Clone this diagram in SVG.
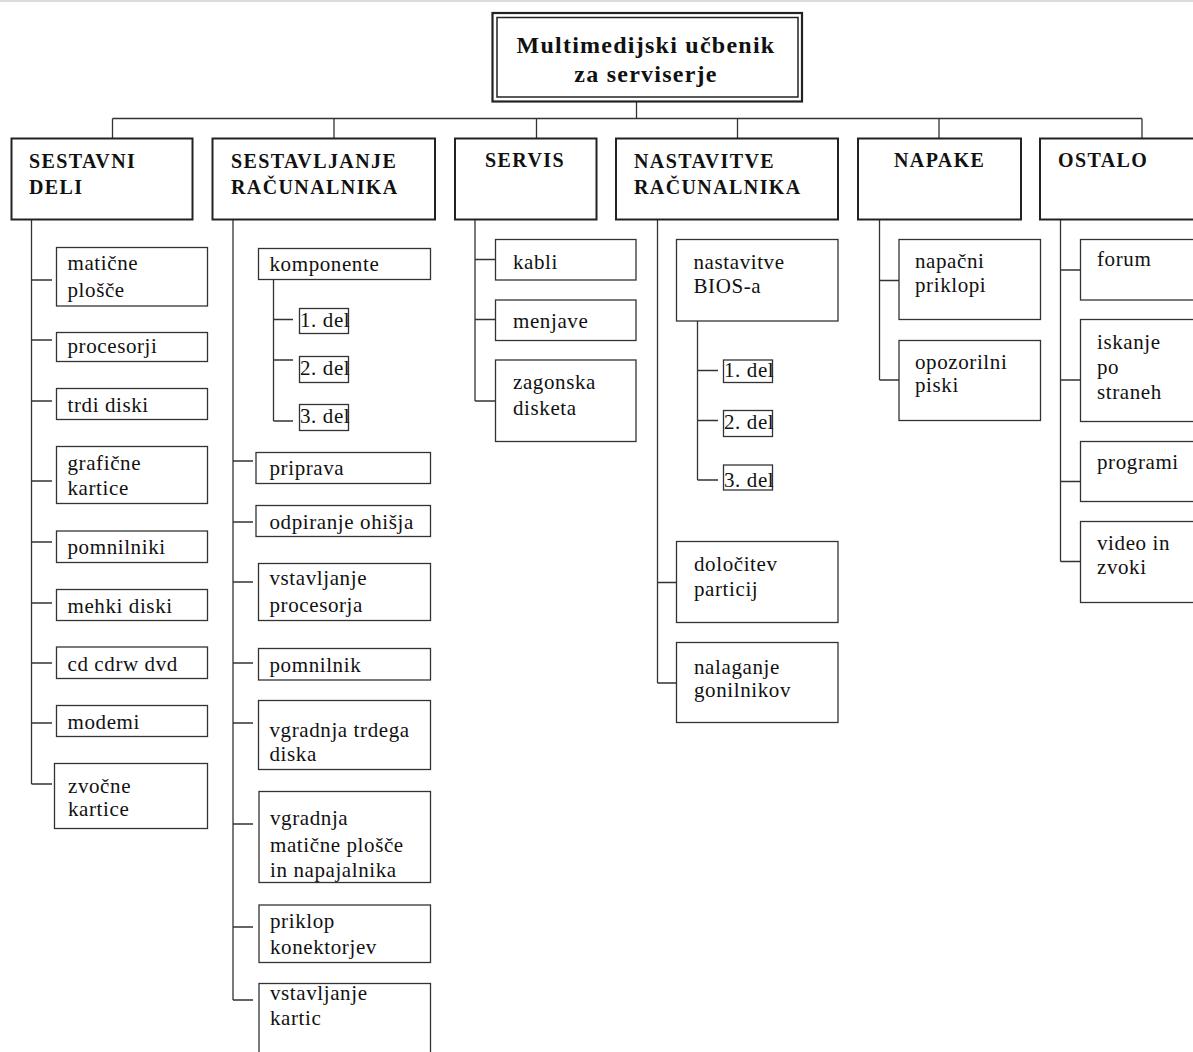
<svg xmlns="http://www.w3.org/2000/svg" width="1193" height="1052" viewBox="0 0 1193 1052">
<style>
text{font-family:"Liberation Serif","Times New Roman",serif;fill:#111}
.t{font-size:24px;font-weight:bold;letter-spacing:1.25px;text-anchor:middle}
.h{font-size:20px;font-weight:bold;letter-spacing:1.4px}
.s{font-size:21px;letter-spacing:0.6px}
.hb{fill:#fff;stroke:#222;stroke-width:2}
.sb{fill:#fff;stroke:#333;stroke-width:1.3}
.c{fill:none;stroke:#333;stroke-width:1.3}
</style>
<rect x="0" y="0" width="1193" height="1052" fill="#fff"/>
<line x1="0" y1="1" x2="1193" y2="1" stroke="#dcdcdc" stroke-width="2"/>
<g id="connectors" class="c">
<path d="M636.5 101.5V118.5M112.5 118.5H1142M112.5 118.5V138.5M334 118.5V138.5M536.5 118.5V138.5M737.5 118.5V138.5M939 118.5V138.5M1142 118.5V138.5"/>
<path d="M31.5 219.5V784M31.5 280H52M31.5 340H52M31.5 401H52M31.5 481H52M31.5 542H52M31.5 603H52M31.5 663H52M31.5 723H52M31.5 784H52"/>
<path d="M233 219.5V1000M233 461H253M233 522H253M233 582H253M233 663H253M233 723H253M233 824H253M233 927H253M233 1000H253"/>
<path d="M273.5 279.5V421M273.5 319.5H293M273.5 360H293M273.5 421H293"/>
<path d="M475 219.5V401M475 259.5H495.5M475 319.5H495.5M475 401H495.5"/>
<path d="M657.5 219.5V683M657.5 582.5H676.5M657.5 683H676.5"/>
<path d="M697.5 321V480M697.5 370.5H718M697.5 420.5H718M697.5 480H718"/>
<path d="M879.5 219.5V380M879.5 280.5H899M879.5 380H899"/>
<path d="M1060.5 219.5V561.5M1060.5 270H1080.5M1060.5 380H1080.5M1060.5 481.5H1080.5M1060.5 561.5H1080.5"/>
</g>
<g id="root">
<rect x="492.5" y="13" width="309.5" height="88.5" fill="#fff" stroke="#222" stroke-width="2.2"/>
<rect x="497" y="17.5" width="301" height="79.5" fill="none" stroke="#222" stroke-width="1.5"/>
<text class="t" x="646" y="52.5">Multimedijski učbenik</text>
<text class="t" x="646" y="81.5">za serviserje</text>
</g>
<g id="sestavni-deli"><rect class="hb" x="11.5" y="138.5" width="181" height="81"/><text class="h" x="29" y="168">SESTAVNI</text><text class="h" x="29" y="193.5">DELI</text></g>
<g id="sestavljanje"><rect class="hb" x="212.5" y="138.5" width="222.5" height="81"/><text class="h" x="231" y="168">SESTAVLJANJE</text><text class="h" x="231" y="193.5">RAČUNALNIKA</text></g>
<g id="servis"><rect class="hb" x="455" y="138.5" width="141.5" height="81"/><text class="h" x="485" y="166.5">SERVIS</text></g>
<g id="nastavitve"><rect class="hb" x="616" y="138.5" width="222" height="81"/><text class="h" x="634" y="168">NASTAVITVE</text><text class="h" x="634" y="193.5">RAČUNALNIKA</text></g>
<g id="napake"><rect class="hb" x="858" y="138.5" width="163" height="81"/><text class="h" x="894" y="167">NAPAKE</text></g>
<g id="ostalo"><rect class="hb" x="1040" y="138.5" width="170" height="81"/><text class="h" x="1058" y="167">OSTALO</text></g>

<g id="maticne-plosce"><rect class="sb" x="56.5" y="247.5" width="151" height="58.5"/><text class="s" x="67.5" y="269.5">matične</text><text class="s" x="67.5" y="296.5">plošče</text></g>
<g id="procesorji"><rect class="sb" x="56.5" y="332.5" width="151" height="29"/><text class="s" x="67.5" y="353">procesorji</text></g>
<g id="trdi-diski"><rect class="sb" x="56.5" y="388.5" width="151" height="31"/><text class="s" x="67.5" y="412">trdi diski</text></g>
<g id="graficne-kartice"><rect class="sb" x="56.5" y="446.5" width="151" height="57"/><text class="s" x="67.5" y="469.5">grafične</text><text class="s" x="67.5" y="495">kartice</text></g>
<g id="pomnilniki"><rect class="sb" x="56.5" y="531" width="151" height="31.5"/><text class="s" x="67.5" y="554">pomnilniki</text></g>
<g id="mehki-diski"><rect class="sb" x="56.5" y="589.5" width="151" height="31"/><text class="s" x="67.5" y="613">mehki diski</text></g>
<g id="cd-cdrw-dvd"><rect class="sb" x="56.5" y="647" width="151" height="31.5"/><text class="s" x="67.5" y="671">cd cdrw dvd</text></g>
<g id="modemi"><rect class="sb" x="56.5" y="705.5" width="151" height="31"/><text class="s" x="67.5" y="728.5">modemi</text></g>
<g id="zvocne-kartice"><rect class="sb" x="54.5" y="763.5" width="153" height="65"/><text class="s" x="68" y="792.5">zvočne</text><text class="s" x="68" y="816">kartice</text></g>

<g id="komponente"><rect class="sb" x="258.5" y="248.5" width="172" height="31"/><text class="s" x="269.5" y="271">komponente</text></g>
<g id="komp-del1"><rect class="sb" x="299.5" y="308.5" width="49" height="25"/><text class="s" x="300" y="326.5">1. del</text></g>
<g id="komp-del2"><rect class="sb" x="299.5" y="356.5" width="49" height="26"/><text class="s" x="300" y="375">2. del</text></g>
<g id="komp-del3"><rect class="sb" x="299.5" y="404.5" width="49" height="26"/><text class="s" x="300" y="423">3. del</text></g>
<g id="priprava"><rect class="sb" x="256" y="452.5" width="174.5" height="31"/><text class="s" x="269.5" y="475">priprava</text></g>
<g id="odpiranje-ohisja"><rect class="sb" x="256" y="505.5" width="174.5" height="31"/><text class="s" x="269.5" y="528.5">odpiranje ohišja</text></g>
<g id="vstavljanje-procesorja"><rect class="sb" x="258.5" y="563.5" width="172" height="57"/><text class="s" x="269.5" y="585">vstavljanje</text><text class="s" x="269.5" y="611.5">procesorja</text></g>
<g id="pomnilnik"><rect class="sb" x="258.5" y="648.5" width="172" height="31.5"/><text class="s" x="269.5" y="671.5">pomnilnik</text></g>
<g id="vgradnja-trdega-diska"><rect class="sb" x="258.5" y="700.5" width="172" height="69"/><text class="s" x="269.5" y="736.5">vgradnja trdega</text><text class="s" x="269.5" y="760.5">diska</text></g>
<g id="vgradnja-maticne"><rect class="sb" x="259" y="791.5" width="171.5" height="91"/><text class="s" x="270" y="825">vgradnja</text><text class="s" x="270" y="851.5">matične plošče</text><text class="s" x="270" y="876.5">in napajalnika</text></g>
<g id="priklop-konektorjev"><rect class="sb" x="259" y="905" width="171.5" height="57.5"/><text class="s" x="270" y="927.5">priklop</text><text class="s" x="270" y="954">konektorjev</text></g>
<g id="vstavljanje-kartic"><rect class="sb" x="259" y="983.5" width="171.5" height="80"/><text class="s" x="270" y="1000">vstavljanje</text><text class="s" x="270" y="1025">kartic</text></g>

<g id="kabli"><rect class="sb" x="495.5" y="239.5" width="140.5" height="40.5"/><text class="s" x="513" y="268.5">kabli</text></g>
<g id="menjave"><rect class="sb" x="495.5" y="300" width="140.5" height="40.5"/><text class="s" x="513" y="327.5">menjave</text></g>
<g id="zagonska-disketa"><rect class="sb" x="495.5" y="360" width="140.5" height="81.5"/><text class="s" x="513" y="388.5">zagonska</text><text class="s" x="513" y="415">disketa</text></g>

<g id="nastavitve-bios"><rect class="sb" x="676.5" y="239.5" width="161.5" height="81.5"/><text class="s" x="693.5" y="268.5">nastavitve</text><text class="s" x="693.5" y="292.5">BIOS-a</text></g>
<g id="bios-del1"><rect class="sb" x="723.5" y="360" width="49" height="22.5"/><text class="s" x="724" y="376.5">1. del</text></g>
<g id="bios-del2"><rect class="sb" x="723.5" y="410.5" width="49" height="26"/><text class="s" x="724" y="428.5">2. del</text></g>
<g id="bios-del3"><rect class="sb" x="723.5" y="465" width="49" height="25"/><text class="s" x="724" y="486.5">3. del</text></g>
<g id="dolocitev-particij"><rect class="sb" x="676.5" y="541.5" width="161.5" height="81"/><text class="s" x="694" y="570.5">določitev</text><text class="s" x="694" y="596">particij</text></g>
<g id="nalaganje-gonilnikov"><rect class="sb" x="676.5" y="642.5" width="161.5" height="80"/><text class="s" x="694" y="673.5">nalaganje</text><text class="s" x="694" y="697">gonilnikov</text></g>

<g id="napacni-priklopi"><rect class="sb" x="899" y="239.5" width="141.5" height="80"/><text class="s" x="915" y="267.5">napačni</text><text class="s" x="915" y="291.5">priklopi</text></g>
<g id="opozorilni-piski"><rect class="sb" x="899" y="340.5" width="141.5" height="80"/><text class="s" x="915" y="368.5">opozorilni</text><text class="s" x="915" y="391.5">piski</text></g>

<g id="forum"><rect class="sb" x="1080.5" y="239.5" width="130" height="60.5"/><text class="s" x="1097" y="266">forum</text></g>
<g id="iskanje-po-straneh"><rect class="sb" x="1080.5" y="319.5" width="130" height="102"/><text class="s" x="1097" y="348.5">iskanje</text><text class="s" x="1097" y="374">po</text><text class="s" x="1097" y="398.5">straneh</text></g>
<g id="programi"><rect class="sb" x="1080.5" y="441.5" width="130" height="60"/><text class="s" x="1097" y="468.5">programi</text></g>
<g id="video-in-zvoki"><rect class="sb" x="1080.5" y="521.5" width="130" height="81"/><text class="s" x="1097" y="550">video in</text><text class="s" x="1097" y="573.5">zvoki</text></g>
</svg>
